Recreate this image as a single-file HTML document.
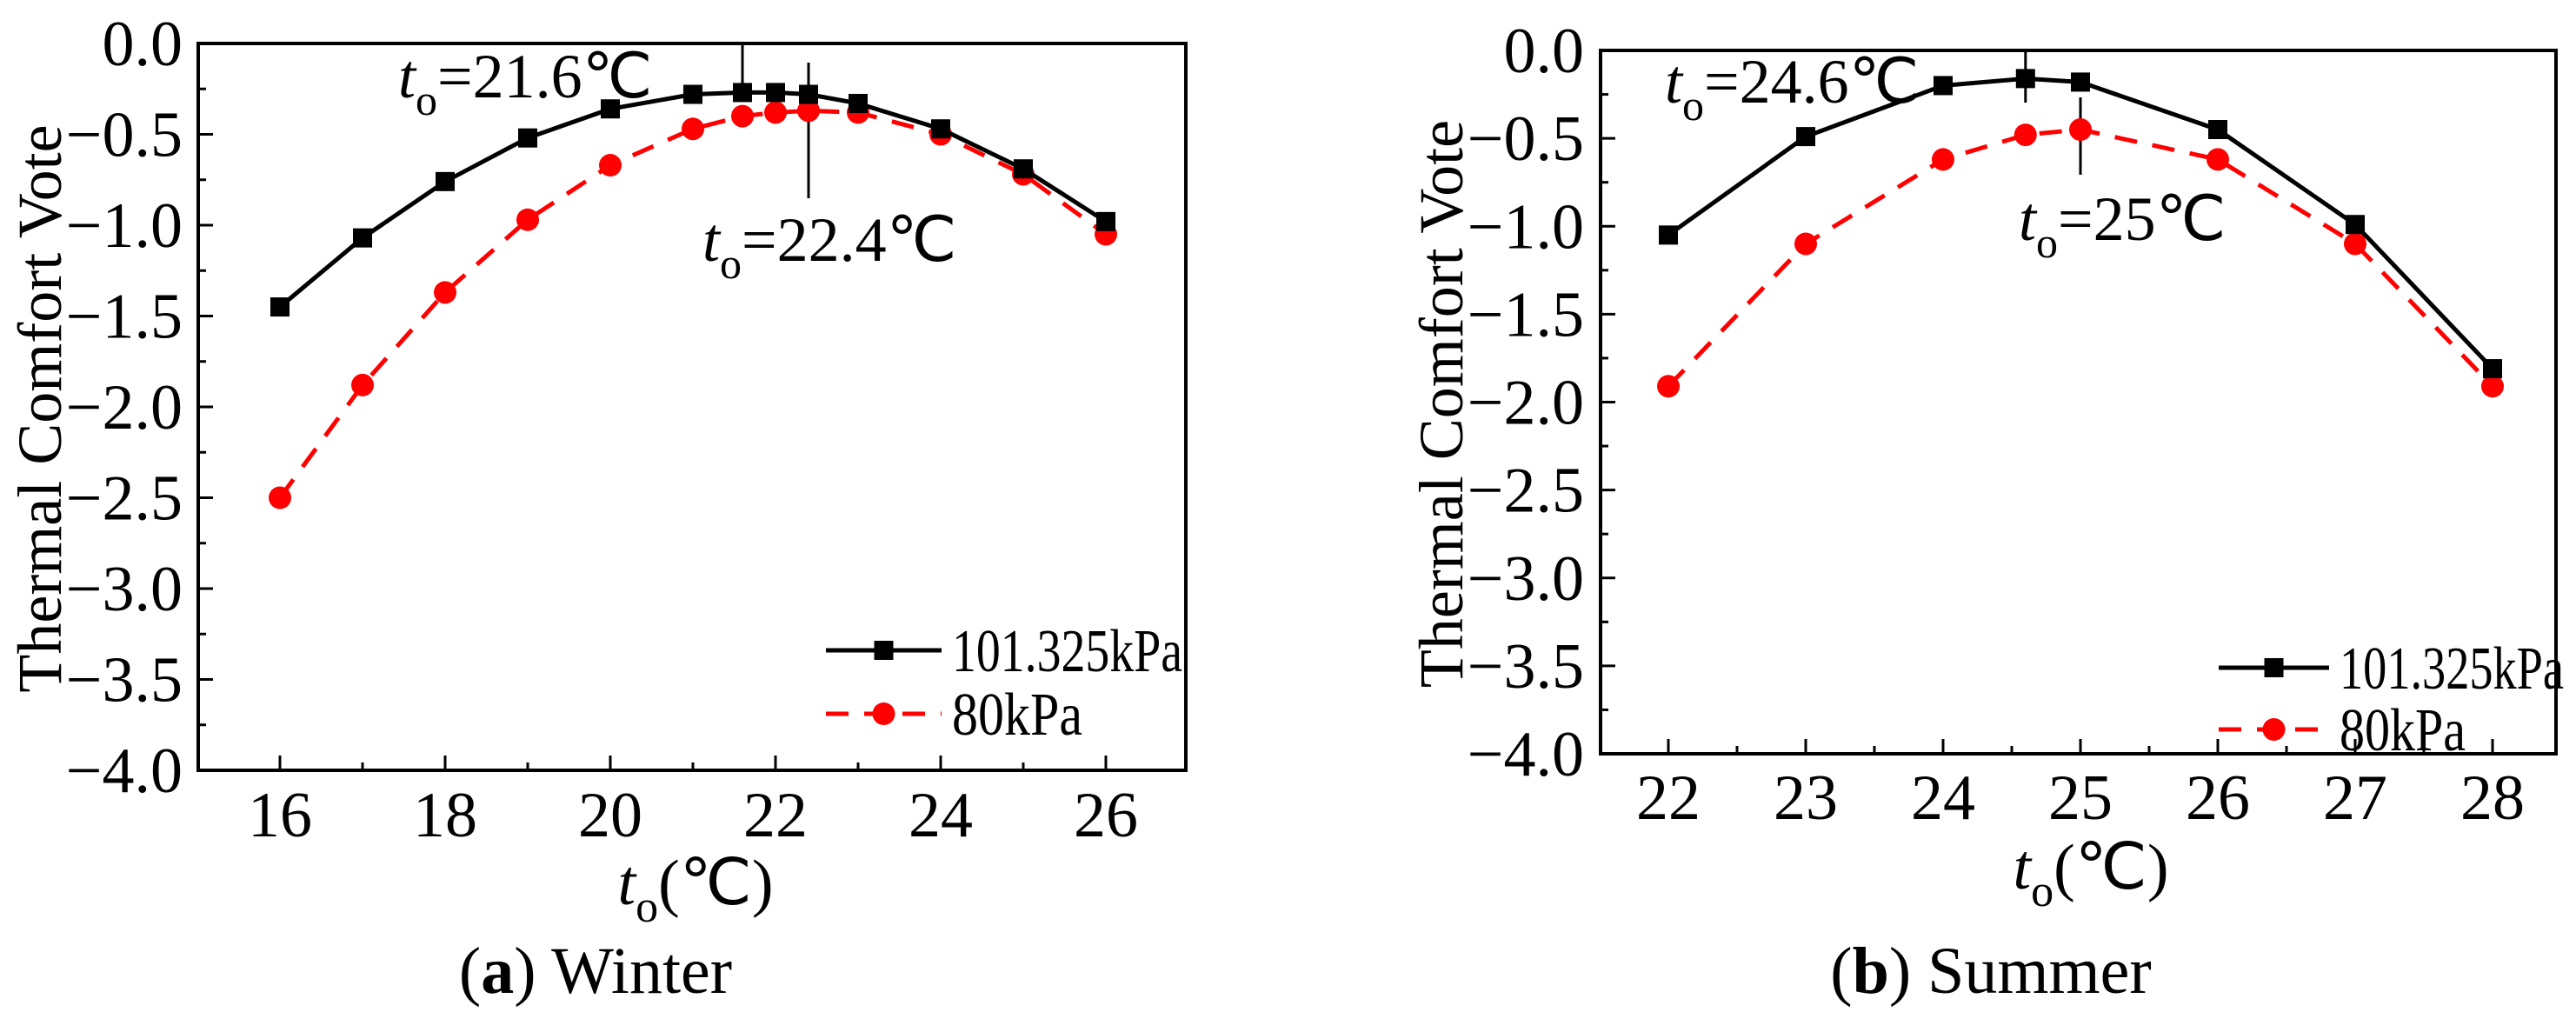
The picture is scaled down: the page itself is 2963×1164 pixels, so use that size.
<!DOCTYPE html>
<html><head><meta charset="utf-8"><style>
html,body{margin:0;padding:0;background:#fff;}
svg{display:block;font-family:"Liberation Serif",serif;}
</style></head><body>
<svg id="fig" width="2963" height="1164" viewBox="0 0 2963 1164" xmlns="http://www.w3.org/2000/svg"></svg>
<script>
const winterX = [16,17,18,19,20,21,21.6,22,22.4,23,24,25,26];
const winterStd = [-1.45,-1.07,-0.76,-0.52,-0.36,-0.28,-0.27,-0.27,-0.28,-0.33,-0.47,-0.69,-0.98];
const winterLow = [-2.5,-1.88,-1.37,-0.97,-0.67,-0.47,-0.40,-0.38,-0.37,-0.38,-0.50,-0.72,-1.05];
const winterXTicks = [16,18,20,22,24,26];
const summerX = [22,23,24,24.6,25,26,27,28];
const summerStd = [-1.05,-0.49,-0.20,-0.16,-0.18,-0.45,-0.99,-1.81];
const summerLow = [-1.91,-1.10,-0.62,-0.48,-0.45,-0.62,-1.10,-1.91];
const summerXTicks = [22,23,24,25,26,27,28];
const yTicks = [0,-0.5,-1,-1.5,-2,-2.5,-3,-3.5,-4];
const seriesNames = ["101.325kPa","80kPa"];

const NS="http://www.w3.org/2000/svg";
const svg=document.getElementById('fig');
function mk(tag,attrs,parent,text){const e=document.createElementNS(NS,tag);for(const k in attrs)e.setAttribute(k,attrs[k]);if(text!==undefined)e.textContent=text;(parent||svg).appendChild(e);return e;}

function chart(cfg){
  const g=mk('g',{});
  
  
  const L=cfg.L,R=cfg.R,T=cfg.T,B=cfg.B;
  const sx=v=>cfg.x0+(v-cfg.xmin)*cfg.xs;
  const sy=v=>T+(0-v)*(B-T)/4;
  const frame=mk('rect',{x:L,y:T,width:R-L,height:B-T,fill:'none',stroke:'#000','stroke-width':4},g);
  
  
  for(let v=0;v>=-4.001;v-=0.25){
    const major=Math.abs(v*2-Math.round(v*2))<1e-6;
    mk('line',{x1:L,x2:L+(major?17:9),y1:sy(v),y2:sy(v),stroke:'#000','stroke-width':3},g);
  }
  yTicks.forEach(v=>{
    const t=mk('text',{x:cfg.ylabX,y:sy(v)+25,'text-anchor':'end','font-size':74},g,(v===0?'0.0':'\u2212'+Math.abs(v).toFixed(1)));
    
    
  });
  for(let v=cfg.xmin;v<=cfg.xmax+1e-6;v+=cfg.minor){
    const major=cfg.xticks.some(k=>Math.abs(k-v)<1e-6);
    mk('line',{x1:sx(v),x2:sx(v),y1:B,y2:B-(major?17:9),stroke:'#000','stroke-width':3},g);
  }
  cfg.xticks.forEach(v=>{
    const t=mk('text',{x:sx(v),y:cfg.xlabY,'text-anchor':'middle','font-size':74},g,String(v));
    
    
  });
  cfg.ann.forEach(a=>{
    const l=mk('line',{x1:sx(a.x),x2:sx(a.x),y1:a.y1,y2:a.y2,stroke:'#000','stroke-width':3},g);
    
    
    const t=mk('text',{x:a.tx,y:a.ty,'font-size':72},g);
    
    
    mk('tspan',{'font-style':'italic'},t,'t');
    mk('tspan',{'font-size':50,dy:20},t,'o');
    mk('tspan',{dy:-20},t,'='+a.label+'\u2103');
  });
  const low=mk('polyline',{points:cfg.xs_.map((x,i)=>sx(x)+','+sy(cfg.low[i])).join(' '),fill:'none',stroke:'#ff0000','stroke-width':5,'stroke-dasharray':'26 18'},g);
  
  
  cfg.xs_.forEach((x,i)=>{
    const c=mk('circle',{cx:sx(x),cy:sy(cfg.low[i]),r:13,fill:'#ff0000'},g);
    
    
  });
  const std=mk('polyline',{points:cfg.xs_.map((x,i)=>sx(x)+','+sy(cfg.std[i])).join(' '),fill:'none',stroke:'#000','stroke-width':5},g);
  
  
  cfg.xs_.forEach((x,i)=>{
    const r=mk('rect',{x:sx(x)-11,y:sy(cfg.std[i])-11,width:22,height:22,fill:'#000'},g);
    
    
  });
  const lg=mk('g',{},g);
  
  
  mk('line',{x1:cfg.lg.x1,x2:cfg.lg.x2,y1:cfg.lg.y1,y2:cfg.lg.y1,stroke:'#000','stroke-width':5},lg);
  mk('rect',{x:(cfg.lg.x1+cfg.lg.x2)/2-11,y:cfg.lg.y1-11,width:22,height:22,fill:'#000'},lg);
  mk('text',{x:cfg.lg.x2+12,y:cfg.lg.y1+24,'font-size':70,textLength:cfg.lg.w1,lengthAdjust:'spacingAndGlyphs'},lg,seriesNames[0]);
  mk('line',{x1:cfg.lg.x1,x2:cfg.lg.x2,y1:cfg.lg.y2,y2:cfg.lg.y2,stroke:'#ff0000','stroke-width':5,'stroke-dasharray':'26 18'},lg);
  mk('circle',{cx:(cfg.lg.x1+cfg.lg.x2)/2,cy:cfg.lg.y2,r:13,fill:'#ff0000'},lg);
  mk('text',{x:cfg.lg.x2+12,y:cfg.lg.y2+24,'font-size':70,textLength:cfg.lg.w2,lengthAdjust:'spacingAndGlyphs'},lg,seriesNames[1]);
  const yt=mk('text',{x:0,y:0,'font-size':72,'text-anchor':'middle',transform:`translate(${cfg.ytX},${(T+B)/2+2}) rotate(-90)`},g,'Thermal Comfort Vote');
  
  
  const xt=mk('text',{x:cfg.xtX,y:cfg.xtY,'font-size':74,'text-anchor':'middle'},g);
  
  
  mk('tspan',{'font-style':'italic'},xt,'t');
  mk('tspan',{'font-size':52,dy:20},xt,'o');
  mk('tspan',{dy:-20},xt,'(\u2103)');
  const cap=mk('text',{x:cfg.capX,y:1142,'font-size':76,'text-anchor':'middle'},g);
  
  
  mk('tspan',{},cap,'(');
  mk('tspan',{'font-weight':'bold'},cap,cfg.capL);
  mk('tspan',{},cap,') '+cfg.capT);
}

chart({id:'winter',L:228,R:1364,T:50,B:886,x0:322,xmin:16,xmax:26,xs:95,minor:1,xticks:winterXTicks,
  xs_:winterX,std:winterStd,low:winterLow,ylabX:210,xlabY:962,
  ann:[{x:21.6,y1:50,y2:114,tx:458,ty:112,label:'21.6'},{x:22.4,y1:72,y2:228,tx:808,ty:300,label:'22.4'}],
  lg:{x1:950,x2:1083,y1:748,y2:821,w1:265,w2:150},ytX:70,xtX:800,xtY:1040,capX:685,capL:'a',capT:'Winter'});
chart({id:'summer',L:1841,R:2940,T:58,B:867,x0:1919,xmin:22,xmax:28,xs:158,minor:0.5,xticks:summerXTicks,
  xs_:summerX,std:summerStd,low:summerLow,ylabX:1822,xlabY:942,
  ann:[{x:24.6,y1:56,y2:118,tx:1915,ty:118,label:'24.6'},{x:25,y1:112,y2:201,tx:2322,ty:276,label:'25'}],
  lg:{x1:2552,x2:2679,y1:768,y2:839,w1:258,w2:145},ytX:1682,xtX:2405,xtY:1022,capX:2290,capL:'b',capT:'Summer'});
</script>
</body></html>
